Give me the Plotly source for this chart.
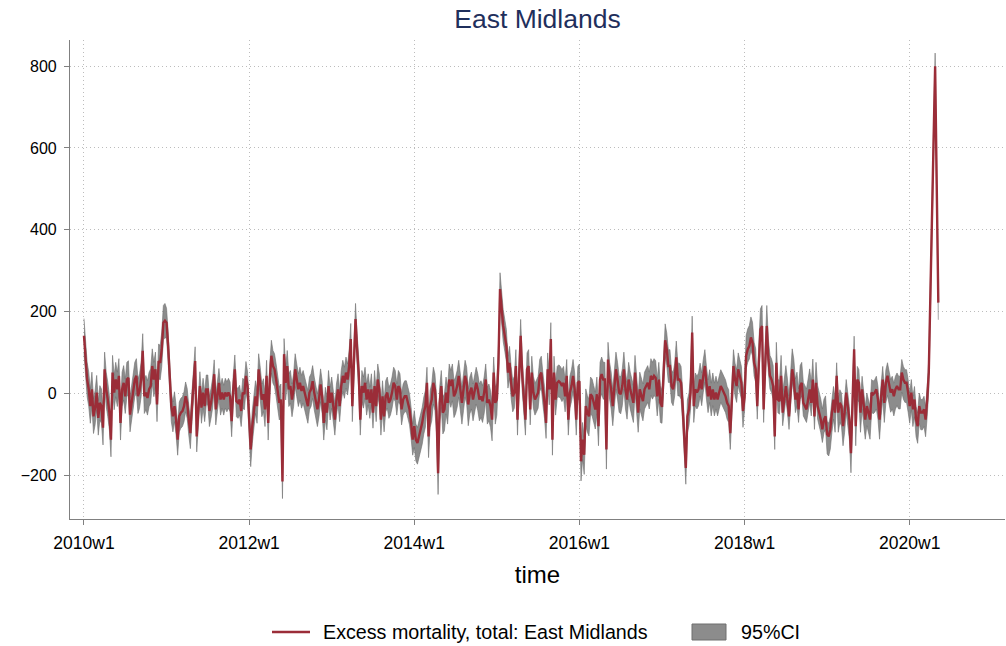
import plotly.graph_objects as go

# weekly excess deaths, East Midlands (Stata weeks, 52 per year)
ex_2010 = [141, 75, 34, 10, -31, 10, -56, -35, 2, -60, -23, -31, -84, 59, 10, -15, -47, -113, 51, 2,
           34, 10, 43, -72, 10, 26, -7, 34, 38, -52, -23, 2, 34, 43, -7, 6, 34, 104, -7, 2,
           -11, 10, 18, 67, 34, 59, -27, 79, 75, 108, 173, 178]
ex_2011 = [173, 116, 34, -31, -56, -31, -64, -113, -56, -47, -43, -31, -7, -23, -64, -97, -31, 34, 79, -105,
           -31, 18, -35, 2, -31, 10, 10, -43, -23, 2, 47, -39, -7, 26, -15, 2, -15, 2, -7, 2,
           -7, -68, 10, 59, -19, -23, -15, -43, 2, -2, 43, 18]
ex_2012 = [-60, -137, -80, -47, -7, -31, 59, 26, -15, -2, -39, 43, -72, 34, 92, 67, 59, 34, 10, -23,
           -15, -215, 96, 26, 67, 10, 18, -15, 10, 59, 34, 10, 26, 6, 18, -2, -15, -31, 2, 10,
           30, 2, -15, -39, -15, 22, -7, -72, -23, -47, 18, -23]
ex_2013 = [2, -31, -64, -15, 10, -31, 18, 43, 26, 51, 34, 67, 133, -31, 100, 182, 108, 51, -64, 18,
           2, 26, -15, 10, -23, 10, -47, 18, -31, 34, 10, -64, -7, -56, -7, 2, -23, -15, 2, 26,
           18, -15, 18, 10, -39, -15, -7, -7, -23, -39, -72, -113]
ex_2014 = [-80, -113, -121, -105, -88, -72, -47, -31, 26, -105, -31, -15, 26, 10, -43, -195, -23, 18, -47, -39,
           2, -23, 34, 18, 34, -7, 2, 18, 43, 10, -23, 10, 43, 26, -27, 2, 14, -15, 2, 26,
           10, -15, -7, -19, 2, 34, -23, -15, -31, -64, 51, -23]
ex_2015 = [-15, 75, 255, 198, 165, 141, 116, 51, 75, 26, -7, 2, 67, -64, 26, 141, 43, -7, -64, 59,
           67, -39, 51, 2, -15, -7, 2, 43, 51, 10, -23, -72, 59, 10, 133, -113, 51, -15, 26, 30,
           26, 18, 26, -7, 43, -64, 2, 18, 43, 10, -64, 26]
ex_2016 = [30, -166, -113, -150, -31, -47, -56, -2, -7, -23, -39, -2, -80, 34, 47, 34, 34, -137, 83, 34,
           10, -31, 10, 59, 34, 2, -2, 18, 59, 10, -15, 34, 10, -7, -23, 51, 10, -47, 10, -7,
           -19, 10, 18, 26, 10, 43, 34, 43, 38, -7, 34, -23]
ex_2017 = [-33, 43, 130, 108, 67, 67, 18, 10, 34, 88, 34, 34, 26, -31, -97, -182, -56, -39, 2, 149,
           -31, 10, 2, 10, 34, 10, 43, 67, 26, -7, 18, -15, 10, -15, 2, -15, 2, 18, 10, 2,
           -7, -23, -31, -97, 2, 67, 34, 18, 59, 43, 26, -43]
ex_2018 = [-10, 92, 108, 116, 137, 124, 75, 59, -31, 75, 157, 165, -39, 67, 165, 83, 43, 34, 18, -105,
           75, -15, -19, 43, -47, -15, 18, -15, -56, 2, 59, 34, -15, 2, -39, 18, 26, -23, -31, -39,
           -15, 10, -23, 34, -56, 26, -31, -47, -64, -88, -64, -56]
ex_2019 = [-100, -105, -88, -47, -15, -47, 43, -47, -23, -31, -80, -47, 2, -31, -64, -146, -7, 108, -80, 34,
           26, -47, 10, -31, -64, -31, -47, -64, 2, -2, 2, 10, -15, -64, -7, 34, -23, 26, 43, 18,
           2, 10, -7, 10, 18, 10, 10, 51, 34, 26, 26, 2]
ex_2020 = [-31, 2, -39, -15, -64, -80, -31, -47, -47, -39, -64, -15, 51, 240, 440, 640, 800, 510, 222]

# width of the 95% band above / below the estimate, per year
ci_up = [42, 35, 38, 38, 38, 40, 42, 40, 50, 32, 32]
ci_dn = [42, 38, 42, 38, 52, 38, 48, 40, 32, 48, 42]

years = [ex_2010, ex_2011, ex_2012, ex_2013, ex_2014, ex_2015,
         ex_2016, ex_2017, ex_2018, ex_2019, ex_2020]

tick_vals = [0, 104, 208, 312, 416, 520]
tick_text = ["2010w1", "2012w1", "2014w1", "2016w1", "2018w1", "2020w1"]

excess, upper, lower = [], [], []
for k, yr in enumerate(years):
    for v in yr:
        excess.append(v)
        upper.append(v + ci_up[k])
        lower.append(v - ci_dn[k])
weeks = list(range(len(excess)))

red = "#9b2d38"
band = "#8c8c8c"
band_edge = "#6e6e6e"
font = "Liberation Sans, Arial, Helvetica, sans-serif"

fig = go.Figure()
fig.add_trace(go.Scatter(x=weeks, y=upper, mode="lines",
                         line=dict(color=band_edge, width=0.6),
                         showlegend=False, hoverinfo="skip"))
fig.add_trace(go.Scatter(x=weeks, y=lower, mode="lines", fill="tonexty",
                         fillcolor=band, line=dict(color=band_edge, width=0.6),
                         name="95%CI", showlegend=False))
fig.add_trace(go.Scatter(x=weeks, y=excess, mode="lines",
                         line=dict(color=red, width=2.4),
                         name="Excess mortality, total: East Midlands", showlegend=False))

# legend drawn by hand below the plot (paper coords: plot spans x 70..1005, y 519..40 px)
def px(x):
    return (x - 70) / 935.0

def py(y):
    return (519 - y) / 479.0

fig.add_shape(type="line", xref="paper", yref="paper",
              x0=px(272), x1=px(310), y0=py(632), y1=py(632),
              line=dict(color=red, width=2.4))
fig.add_shape(type="rect", xref="paper", yref="paper",
              x0=px(692), x1=px(726), y0=py(640), y1=py(624),
              fillcolor=band, line=dict(color=band_edge, width=1))
fig.add_annotation(text="Excess mortality, total: East Midlands", xref="paper", yref="paper",
                   x=px(321), y=py(632), xanchor="left", yanchor="middle", showarrow=False,
                   font=dict(family=font, size=19.7, color="#000000"))
fig.add_annotation(text="95%CI", xref="paper", yref="paper",
                   x=px(739), y=py(632), xanchor="left", yanchor="middle", showarrow=False,
                   font=dict(family=font, size=19.7, color="#000000"))

fig.update_layout(
    width=1006, height=646,
    margin=dict(l=70, r=1, t=40, b=127),
    paper_bgcolor="white", plot_bgcolor="white",
    font=dict(family=font, size=16, color="#000000"),
    title=dict(text="East Midlands", xref="paper", x=0.5, xanchor="center",
               y=1 - 19 / 646, yanchor="middle",
               font=dict(family=font, size=26.5, color="#1f2f5c")),
    showlegend=False,
)

fig.update_xaxes(
    range=[-8.8, 580], tickvals=tick_vals, ticktext=tick_text, automargin=False,
    showline=True, linecolor="#808080", linewidth=1.2,
    ticks="outside", ticklen=5, tickcolor="#808080", ticklabelstandoff=3,
    showgrid=True, gridcolor="#bcbcbc", griddash="1px,3px", gridwidth=1,
    zeroline=False, tickfont=dict(size=17.5),
    title=dict(text="time", font=dict(size=24), standoff=14),
)
fig.update_yaxes(
    range=[-307, 864], tickvals=[-200, 0, 200, 400, 600, 800], automargin=False,
    showline=True, linecolor="#808080", linewidth=1.2,
    ticks="outside", ticklen=5, tickcolor="#808080", ticklabelstandoff=4,
    showgrid=True, gridcolor="#bcbcbc", griddash="1px,3px", gridwidth=1,
    zeroline=False, tickfont=dict(size=16),
)

fig.write_html("out.html", config={"displayModeBar": False},
               post_script="document.body.style.margin='0';")
